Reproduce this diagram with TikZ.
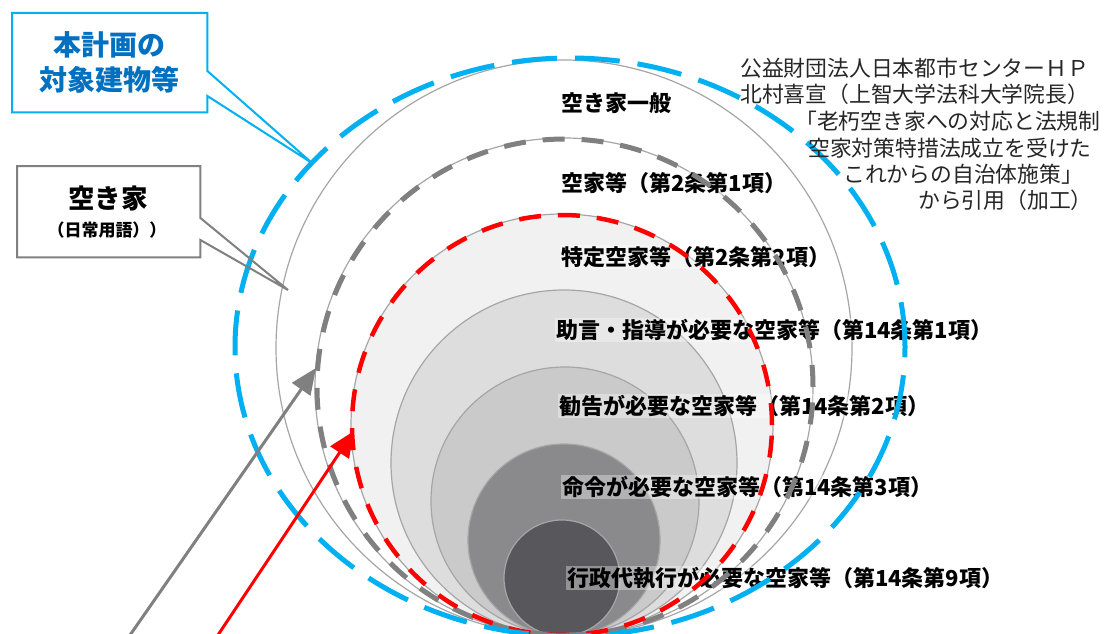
\documentclass[tikz,border=0pt]{standalone}
\usepackage{fontspec}
\newfontfamily\jp{Noto Sans CJK JP}
\usetikzlibrary{arrows.meta,calc}
\definecolor{cyanline}{HTML}{00B0F0}
\definecolor{bluetext}{HTML}{0070C0}
\definecolor{gline}{HTML}{A6A6A6}
\definecolor{gdash}{HTML}{808080}
\definecolor{f1}{HTML}{F1F1F1}
\definecolor{f2}{HTML}{DDDDDD}
\definecolor{f3}{HTML}{CACACA}
\definecolor{f4}{HTML}{8A8A8C}
\definecolor{f5}{HTML}{58585C}
\begin{document}
\begin{tikzpicture}[x=1pt,y=-1pt,
  lab/.style={anchor=west, inner sep=1pt, fill=white, fill opacity=0.35, text opacity=1,
    font=\jp\bfseries\fontsize{22}{26}\selectfont, text=black},
  cite/.style={anchor=west, inner sep=0pt, font=\jp\fontsize{21.8}{26}\selectfont, text=black!85},
  ring/.style={draw=gline, line width=1.2pt},
  bluedash/.style={draw=cyanline, line width=5pt, dash pattern=on 45pt off 18pt},
  graydash/.style={draw=gdash, line width=5pt, dash pattern=on 22pt off 17pt},
  reddash/.style={draw=red, line width=4.5pt, dash pattern=on 22pt off 17pt},
  bluebox/.style={draw=cyanline, line width=2pt},
  graybox/.style={draw=gdash, line width=2pt},
  gray arrow/.style={draw=gdash, line width=3pt, -{Triangle[length=26pt,width=22pt]}},
  red arrow/.style={draw=red, line width=3pt, -{Triangle[length=26pt,width=22pt]}},
]
\useasboundingbox (0,0) rectangle (1104,634);
\clip (0,0) rectangle (1104,634);
\fill[white] (0,0) rectangle (1104,634);

% filled nested circles
\filldraw[ring, fill=f1] (562,425) circle[radius=211pt];
\filldraw[ring, fill=f2] (564,463) circle[radius=173pt];
\filldraw[ring, fill=f3] (565,501) circle[radius=134pt];
\filldraw[ring, fill=f4] (564,540) circle[radius=96pt];
\filldraw[ring, fill=f5] (562,578) circle[radius=58pt];
% thin rings
\draw[ring] (564,348) circle[radius=288pt];
\draw[ring] (564,387) circle[radius=249pt];

% labels
\node[lab] (l1) at (560,103) {空き家一般};
\node[lab] (l2) at (560,183) {空家等（第2条第1項）};
\node[lab] (l3) at (560,257) {特定空家等（第2条第2項）};
\node[lab] (l4) at (555,330) {助言・指導が必要な空家等（第14条第1項）};
\node[lab] (l5) at (558,406) {勧告が必要な空家等（第14条第2項）};
\node[lab] (l6) at (561,487) {命令が必要な空家等（第14条第3項）};
\node[lab] (l7) at (566,578) {行政代執行が必要な空家等（第14条第9項）};

% dashed outlines
\draw[graydash] (565,387) circle[radius=248pt];
\draw[reddash] (562,425) circle[radius=210pt];
\draw[bluedash] (570,347) ellipse[x radius=335pt, y radius=289pt];

% citation
\node[cite] (c1) at (740,68) {公益財団法人日本都市センターＨＰ};
\node[cite] (c2) at (740,94) {北村喜宣（上智大学法科大学院長）};
\node[cite] (c3) at (795,121) {「老朽空き家への対応と法規制};
\node[cite] (c4) at (808,148) {空家対策特措法成立を受けた};
\node[cite] (c5) at (843,174) {これからの自治体施策」};
\node[cite] (c6) at (918,200) {から引用（加工）};

% blue callout
\node[anchor=north west, minimum width=195pt, minimum height=99pt, inner sep=0pt,
  align=center, text=bluetext, font=\jp\bfseries\fontsize{28}{35}\selectfont] (hon) at (12,13) {本計画の\\対象建物等};
\coordinate (hontip) at (312,163);
\draw[bluebox, line join=miter] (hon.north west) -- (hon.north east) -- ([yshift=-58pt]hon.north east)
  -- (hontip) -- ([yshift=-83pt]hon.north east) -- (hon.south east) -- (hon.south west) -- cycle;

% gray callout
\node[anchor=north west, minimum width=183pt, minimum height=91pt, inner sep=0pt] (aki) at (17,166) {};
\node[inner sep=0pt, font=\jp\bfseries\fontsize{26.5}{30}\selectfont] (akit) at (108,198) {空き家};
\node[inner sep=0pt, font=\jp\bfseries\fontsize{17}{20}\selectfont] (akis) at (107,230) {（日常用語））};
\coordinate (akitip) at (288,290);
\draw[graybox, line join=miter] (aki.north west) -- (aki.north east) -- ([yshift=-52pt]aki.north east)
  -- (akitip) -- ([yshift=-74pt]aki.north east) -- (aki.south east) -- (aki.south west) -- cycle;

% arrows
\coordinate (gs) at (128,638);
\coordinate (gt) at (316,368);
\coordinate (rs) at (216,638);
\coordinate (rt) at (354,431);
\draw[gray arrow] (gs) -- (gt);
\draw[red arrow] (rs) -- (rt);
\end{tikzpicture}
\end{document}
